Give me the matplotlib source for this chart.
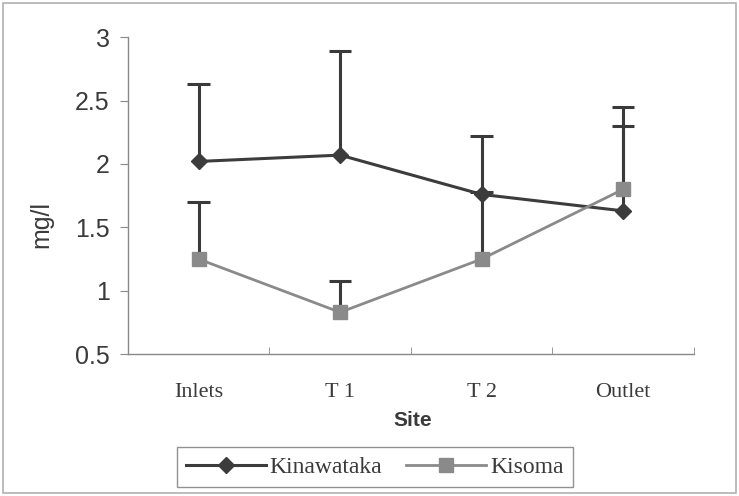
import matplotlib
matplotlib.use("Agg")
import matplotlib.pyplot as plt
import numpy as np
from matplotlib.patches import Rectangle

sites = ["Inlets", "T 1", "T 2", "Outlet"]
kinawataka = [2.02, 2.07, 1.76, 1.63]
kinawataka_err = [0.61, 0.82, 0.46, 0.67]
kisoma = [1.25, 0.83, 1.25, 1.80]
kisoma_err = [0.45, 0.25, 0.53, 0.65]
yticks = [0.5, 1, 1.5, 2, 2.5, 3]
ytick_labels = ["0.5", "1", "1.5", "2", "2.5", "3"]

fig = plt.figure(figsize=(7.39, 4.96), dpi=100)
fig.patches.append(Rectangle((0.004, 0.006), 0.992, 0.988, transform=fig.transFigure,
                             fill=False, edgecolor="#b0b0b0", lw=1.2))
ax = fig.add_axes([0.173, 0.286, 0.766, 0.639])

x = np.arange(len(sites))
cap = 0.08
# upper-only error bars, drawn by hand so no cap sits on the marker
for vals, err in [(kinawataka, kinawataka_err), (kisoma, kisoma_err)]:
    tops = np.array(vals) + np.array(err)
    ax.vlines(x, vals, tops, color="#3a3a3a", lw=2.2, zorder=2)
    ax.hlines(tops, x - cap, x + cap, color="#3a3a3a", lw=2.2, zorder=2)

ax.plot(x, kinawataka, color="#3c3c3c", lw=2.2, marker="D", ms=8,
        label="Kinawataka", zorder=3)
ax.plot(x, kisoma, color="#8a8a8a", lw=2, marker="s", ms=10,
        label="Kisoma", zorder=3)

ax.set_xlim(-0.5, 3.5)
ax.set_ylim(0.5, 3)
ax.set_yticks(yticks)
ax.set_yticklabels(ytick_labels, fontname="Liberation Sans", fontsize=18, color="#3a3a3a")
ax.set_xticks(x)
ax.set_xticklabels(sites, fontname="Liberation Serif", fontsize=16, color="#3a3a3a")
ax.set_xticks([0.5, 1.5, 2.5, 3.5], minor=True)
ax.tick_params(axis="x", which="major", length=0, pad=21)
ax.tick_params(axis="x", which="minor", length=5, color="#888888", direction="in")
ax.tick_params(axis="y", length=6, color="#888888", pad=7)

for s in ["top", "right"]:
    ax.spines[s].set_visible(False)
for s in ["left", "bottom"]:
    ax.spines[s].set_color("#888888")
    ax.spines[s].set_linewidth(1)

ax.text(-0.152, 0.41, "mg/l", rotation=90, ha="center", va="center",
        transform=ax.transAxes, fontname="Liberation Sans", fontsize=18, color="#3a3a3a")
fig.text(413 / 739, 1 - 420 / 496, "Site", ha="center", va="center",
         fontname="Liberation Sans", fontsize=15, fontweight="bold", color="#3a3a3a")

leg = fig.legend(loc="center", bbox_to_anchor=(0.507, 0.058), ncol=2,
                 prop={"family": "Liberation Serif", "size": 17},
                 frameon=True, fancybox=False, handlelength=3.4,
                 handletextpad=0.15, columnspacing=1.0, borderpad=0.4)
for t in leg.get_texts():
    t.set_color("#3a3a3a")
leg.get_frame().set_edgecolor("#777777")
leg.get_frame().set_linewidth(1)

fig.savefig("out.png", dpi=100)
